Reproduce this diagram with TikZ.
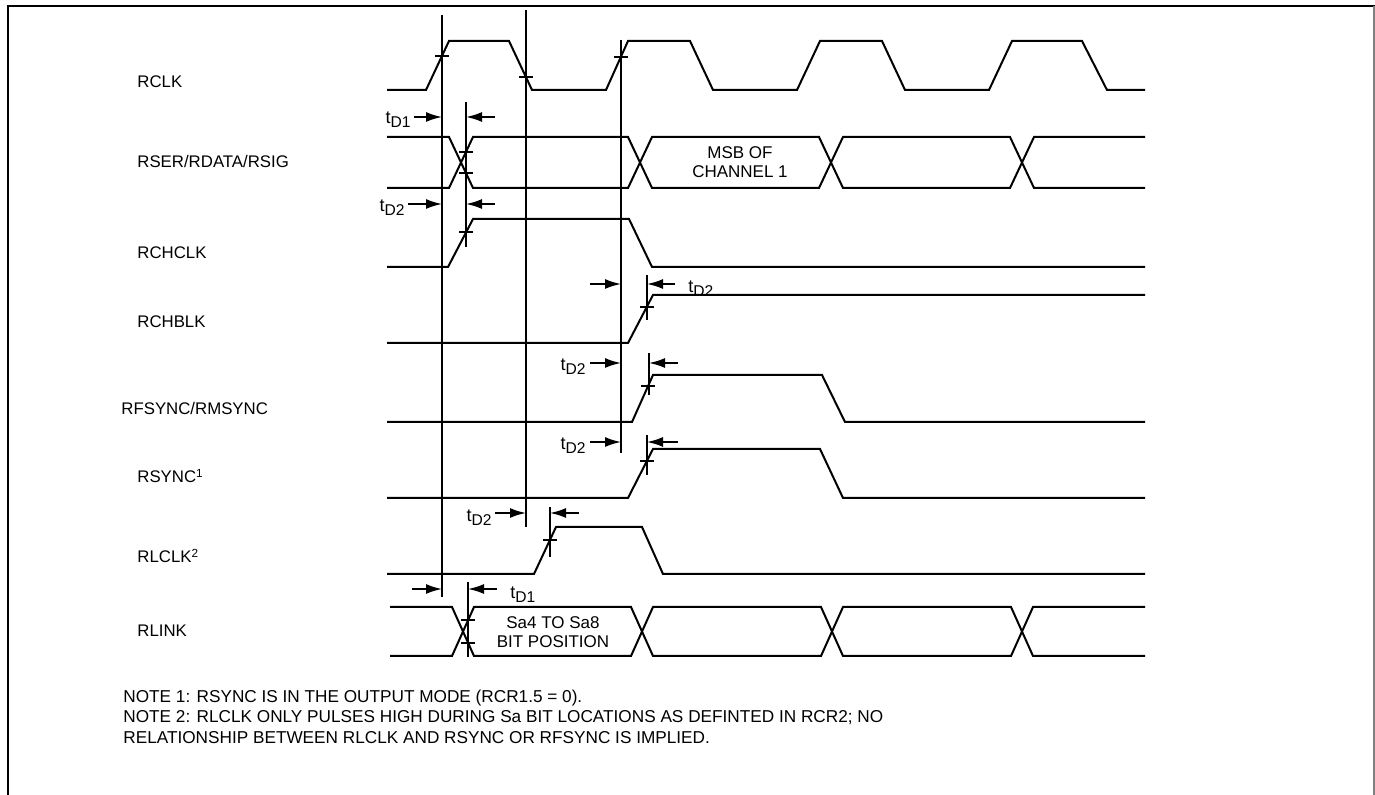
\documentclass[tikz,border=0pt]{standalone}
\usepackage{fontspec}
\setmainfont{Liberation Sans}
\usetikzlibrary{arrows.meta}

\newcommand{\tdly}[1]{t\raisebox{-0.45ex}{\fontsize{7.8}{7.8}\selectfont D#1}}

\begin{document}
\begin{tikzpicture}[x=0.5pt,y=-0.5pt,
  wave/.style={line width=1pt,line join=miter},
  guide/.style={line width=0.7pt},
  tickmark/.style={line width=0.7pt},
  dimarrow/.style={line width=0.9pt,-{Latex[length=8pt,width=5pt]}},
  sig/.style={font=\fontsize{8.4}{10}\selectfont,anchor=west,inner sep=0pt},
  delay/.style={font=\fontsize{9}{10}\selectfont,inner sep=0pt},
  note/.style={font=\fontsize{8.6}{10}\selectfont,anchor=west,inner sep=0pt},
  buslabel/.style={font=\fontsize{8.5}{9.5}\selectfont,align=center,inner sep=0pt}]
  \useasboundingbox (0,0) rectangle (1375,795);

  \draw[line width=1pt] (8,795) -- (8,6.5) -- (1375,6.5);
  \draw[gray,line width=0.6pt] (1374,6.5) -- (1374,795);

  \node[sig] (rclk)   at (137,82)  {RCLK};
  \node[sig] (rser)   at (137,162) {RSER/RDATA/RSIG};
  \node[sig] (rchclk) at (137,253) {RCHCLK};
  \node[sig] (rchblk) at (137,322) {RCHBLK};
  \node[sig] (rfsync) at (121,408) {RFSYNC/RMSYNC};
  \node[sig] (rsync)  at (137,476) {RSYNC\textsuperscript{1}};
  \node[sig] (rlclk)  at (137,556) {RLCLK\textsuperscript{2}};
  \node[sig] (rlink)  at (137,631) {RLINK};

  \draw[guide] (442,15) -- (442,597);
  \draw[guide] (526,10) -- (526,527);
  \draw[guide] (621,40) -- (621,453);
  \draw[guide] (466,102) -- (466,247);
  \draw[guide] (647,275) -- (647,320);
  \draw[guide] (649,353) -- (649,395);
  \draw[guide] (647,435) -- (647,475);
  \draw[guide] (550,507) -- (550,557);
  \draw[guide] (468,582) -- (468,657);

  \draw[wave] (387,90) -- (426,90) -- (449,41) -- (509,41) -- (532,90) -- (606,90)
    -- (628,41) -- (690,41) -- (713,90) -- (797,90) -- (820,41) -- (882,41) -- (905,90)
    -- (989,90) -- (1012,41) -- (1082,41) -- (1107,90) -- (1145,90);

  \draw[wave] (387,137) -- (449,137) -- (473,188) -- (628,188) -- (652,137) -- (819,137)
    -- (843,188) -- (1010,188) -- (1034,137) -- (1145,137);
  \draw[wave] (387,188) -- (449,188) -- (473,137) -- (628,137) -- (652,188) -- (819,188)
    -- (843,137) -- (1010,137) -- (1034,188) -- (1145,188);
  \node[buslabel] (msb) at (740,162) {MSB OF\\CHANNEL 1};

  \draw[wave] (387,267) -- (448,267) -- (473,219) -- (629,219) -- (652,267) -- (1145,267);
  \draw[wave] (387,343) -- (628,343) -- (653,295) -- (1145,295);
  \draw[wave] (387,422) -- (632,422) -- (653,375) -- (822,375) -- (845,422) -- (1145,422);
  \draw[wave] (387,498) -- (628,498) -- (653,449) -- (820,449) -- (843,498) -- (1145,498);
  \draw[wave] (387,574) -- (534,574) -- (556,527) -- (642,527) -- (663,574) -- (1145,574);

  \draw[wave] (390,607) -- (452,607) -- (474,656) -- (631,656) -- (653,607) -- (821,607)
    -- (843,656) -- (1011,656) -- (1033,607) -- (1145,607);
  \draw[wave] (390,656) -- (452,656) -- (474,607) -- (631,607) -- (653,656) -- (821,656)
    -- (843,607) -- (1011,607) -- (1033,656) -- (1145,656);
  \node[buslabel] (sabits) at (553,632) {Sa4 TO Sa8\\BIT POSITION};

  \foreach \x/\y in {442/56,526/77,621/57,466/152,466/173,466/232,647/307,
                     648/386,647/461,550/540,468/620,468/643}
    \draw[tickmark] (\x-7,\y) -- (\x+7,\y);

  \draw[dimarrow] (414,117) -- (442,117);
  \draw[dimarrow] (495,117) -- (466,117);
  \node[delay,anchor=east] (d1) at (411,120) {\tdly{1}};

  \draw[dimarrow] (408,204) -- (442,204);
  \draw[dimarrow] (495,204) -- (466,204);
  \node[delay,anchor=east] (d2) at (405,208) {\tdly{2}};

  \draw[dimarrow] (590,284) -- (621,284);
  \draw[dimarrow] (675,284) -- (647,284);
  \node[delay,anchor=west] (d3) at (688,289) {\tdly{2}};

  \draw[dimarrow] (590,363) -- (621,363);
  \draw[dimarrow] (678,363) -- (649,363);
  \node[delay,anchor=east] (d4) at (586,367) {\tdly{2}};

  \draw[dimarrow] (590,442) -- (621,442);
  \draw[dimarrow] (678,442) -- (647,442);
  \node[delay,anchor=east] (d5) at (586,446) {\tdly{2}};

  \draw[dimarrow] (495,513) -- (526,513);
  \draw[dimarrow] (579,513) -- (550,513);
  \node[delay,anchor=east] (d6) at (492,518) {\tdly{2}};

  \draw[dimarrow] (412,589) -- (442,589);
  \draw[dimarrow] (497,589) -- (468,589);
  \node[delay,anchor=west] (d7) at (510,595) {\tdly{1}};

  \node[note] (note1) at (123,698) {NOTE 1: RSYNC IS IN THE OUTPUT MODE (RCR1.5 = 0).};
  \node[note] (note2) at (123,718) {NOTE 2: RLCLK ONLY PULSES HIGH DURING Sa BIT LOCATIONS AS DEFINTED IN RCR2; NO};
  \node[note] (note3) at (123,738) {RELATIONSHIP BETWEEN RLCLK AND RSYNC OR RFSYNC IS IMPLIED.};
\end{tikzpicture}
\end{document}
